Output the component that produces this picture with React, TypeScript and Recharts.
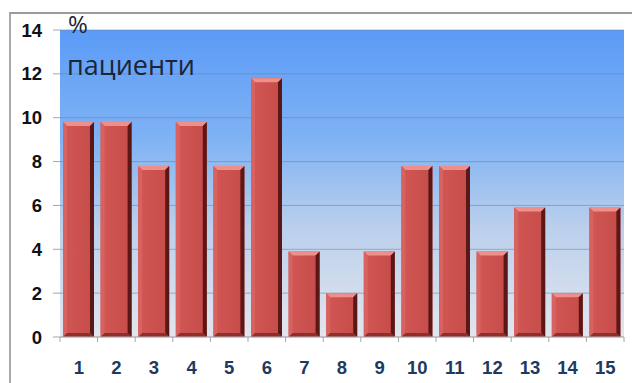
import { BarChart, Bar, XAxis, YAxis, CartesianGrid } from "recharts";

const CATEGORIES = ["1", "2", "3", "4", "5", "6", "7", "8", "9", "10", "11", "12", "13", "14", "15"];
const PATIENTS_PCT = [9.8, 9.8, 7.8, 9.8, 7.8, 11.8, 3.9, 2.0, 3.9, 7.8, 7.8, 3.9, 5.9, 2.0, 5.9];
const Y_TICKS = [0, 2, 4, 6, 8, 10, 12, 14];

const data = CATEGORIES.map((name, i) => ({ name, value: PATIENTS_PCT[i] }));

const W = 632;
const H = 383;
const M = { top: 30, right: 8, left: 0, bottom: 10 };
const Y_AXIS_W = 60;
const X_AXIS_H = 36;
const BAND = (W - M.left - M.right - Y_AXIS_W) / CATEGORIES.length;

// bevelled "3D" bar like the office chart
function BevelBar(props: any) {
  const { x, y, width: w, height: h } = props;
  if (!h || h <= 0) return null;
  const b = 4;
  return (
    <g>
      <rect x={x} y={y} width={w} height={h} fill="url(#barFace)" />
      <polygon points={`${x},${y} ${x + w},${y} ${x + w - b},${y + b} ${x + b},${y + b}`} fill="#ee8f8b" />
      <polygon points={`${x},${y} ${x + b},${y + b} ${x + b},${y + h - b} ${x},${y + h}`} fill="#d8625f" />
      <polygon points={`${x + w},${y} ${x + w},${y + h} ${x + w - b},${y + h - b} ${x + w - b},${y + b}`} fill="#5a1715" />
      <polygon points={`${x},${y + h} ${x + w},${y + h} ${x + w - b},${y + h - b} ${x + b},${y + h - b}`} fill="#8f2e2c" />
    </g>
  );
}

function XTick(props: any) {
  const { x, y, payload, index } = props;
  const left = x - BAND / 2;
  return (
    <g>
      <line x1={left} x2={left} y1={y} y2={y + 5} stroke="#a6a6a6" />
      {index === CATEGORIES.length - 1 && (
        <line x1={x + BAND / 2} x2={x + BAND / 2} y1={y} y2={y + 5} stroke="#a6a6a6" />
      )}
      <text
        x={x}
        y={y + 37}
        textAnchor="middle"
        fontFamily="Liberation Sans, Arial, sans-serif"
        fontWeight="bold"
        fontSize={18.5}
        fill="#1f3a5f"
      >
        {payload.value}
      </text>
    </g>
  );
}

export default function App() {
  return (
    <div style={{ position: "absolute", left: 0, top: 0, width: W, height: H, background: "#fff", overflow: "hidden" }}>
      <div
        style={{
          position: "absolute",
          left: 9,
          top: 12,
          width: W,
          height: H,
          borderLeft: "2px solid #a8a8a8",
          borderTop: "2px solid #9a9a9a",
        }}
      />
      <BarChart width={W} height={H} data={data} margin={M} style={{ position: "absolute", left: 0, top: 0 }}>
        <defs>
          <linearGradient id="plotBg" x1="0" y1="0" x2="0" y2="1">
            <stop offset="0%" stopColor="#5b9bf7" />
            <stop offset="35%" stopColor="#7fb2f4" />
            <stop offset="65%" stopColor="#bcd0ec" />
            <stop offset="100%" stopColor="#e1e6ee" />
          </linearGradient>
          <linearGradient id="barFace" x1="0" y1="0" x2="1" y2="0">
            <stop offset="0%" stopColor="#d25754" />
            <stop offset="100%" stopColor="#c54c49" />
          </linearGradient>
        </defs>
        <CartesianGrid
          vertical={false}
          fill="url(#plotBg)"
          fillOpacity={1}
          stroke="#6d7f99"
          strokeOpacity={0.55}
        />
        <XAxis
          dataKey="name"
          height={X_AXIS_H}
          tickLine={false}
          tickSize={0}
          tickMargin={0}
          axisLine={{ stroke: "#b5b5b5" }}
          tick={<XTick />}
          interval={0}
        />
        <YAxis
          width={Y_AXIS_W}
          domain={[0, 14]}
          ticks={Y_TICKS}
          axisLine={false}
          tickLine={{ stroke: "#a6a6a6" }}
          tickSize={7}
          tickMargin={11}
          tick={{ fontFamily: "Liberation Sans, Arial, sans-serif", fontWeight: "bold", fontSize: 18.5, fill: "#111" }}
        />
        <Bar dataKey="value" barSize={31} shape={<BevelBar />} isAnimationActive={false} />
      </BarChart>
      <div
        style={{
          position: "absolute",
          left: 68,
          top: 10,
          fontFamily: "'Open Sans', sans-serif",
          fontSize: 24,
          lineHeight: "28px",
          color: "#1c2533",
        }}
      >
        %
      </div>
      <div
        style={{
          position: "absolute",
          left: 67,
          top: 48,
          fontFamily: "'Open Sans', sans-serif",
          fontSize: 27,
          lineHeight: "34px",
          color: "#1c2533",
        }}
      >
        пациенти
      </div>
    </div>
  );
}
